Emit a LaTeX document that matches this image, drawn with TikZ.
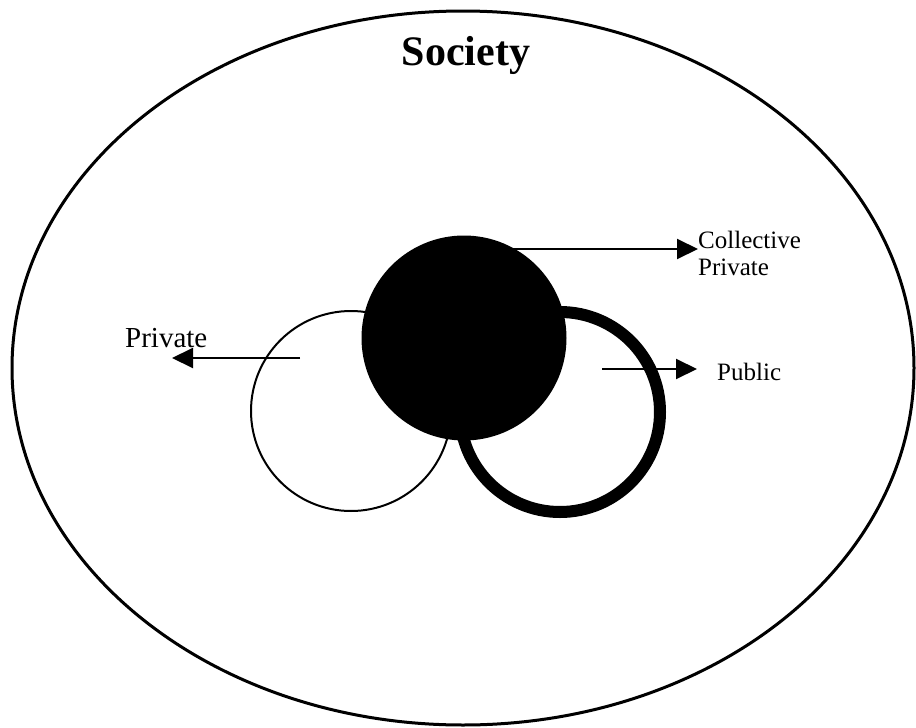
\documentclass[tikz,border=0pt]{standalone}
\usepackage{fontspec}
\setmainfont{Liberation Serif}
\usetikzlibrary{arrows.meta}
\begin{document}
\begin{tikzpicture}[x=1pt,y=-1pt,
  lbl/.style={inner sep=0pt,anchor=base west,font=\fontsize{25}{27}\selectfont},
  arr/.style={line width=2pt,-{Triangle[length=21pt,width=20pt]}}]
\useasboundingbox (0,0) rectangle (916,728);
\draw[line width=3pt] (463,368) ellipse [x radius=451, y radius=357];
\node[inner sep=0pt,anchor=base,font=\fontsize{42}{46}\selectfont\bfseries] (soc) at (466,65) {Society};
\node[circle,draw,line width=2pt,minimum size=200pt,inner sep=0pt] (priv) at (351,411) {};
\node[circle,draw,line width=12pt,minimum size=200pt,inner sep=0pt] (pub) at (560,412) {};
\node[circle,fill=black,minimum size=205pt,inner sep=0pt] (coll) at (464,338) {};
% labels
\node[lbl,font=\fontsize{29}{31}\selectfont] (lpriv) at (125,347) {Private};
\node[lbl,align=left] (lcoll) at (698,275) {Collective\\Private};
\node[lbl] (lpub) at (717,380) {Public};
% arrow endpoints
\coordinate (p1) at (300,358);
\coordinate (p2) at (172,358);
\coordinate (c1) at (505,249);
\coordinate (c2) at (698,249);
\coordinate (u1) at (602,369);
\coordinate (u2) at (697,369);
\draw[arr] (p1) -- (p2);
\draw[arr] (c1) -- (c2);
\draw[arr] (u1) -- (u2);
\end{tikzpicture}
\end{document}
